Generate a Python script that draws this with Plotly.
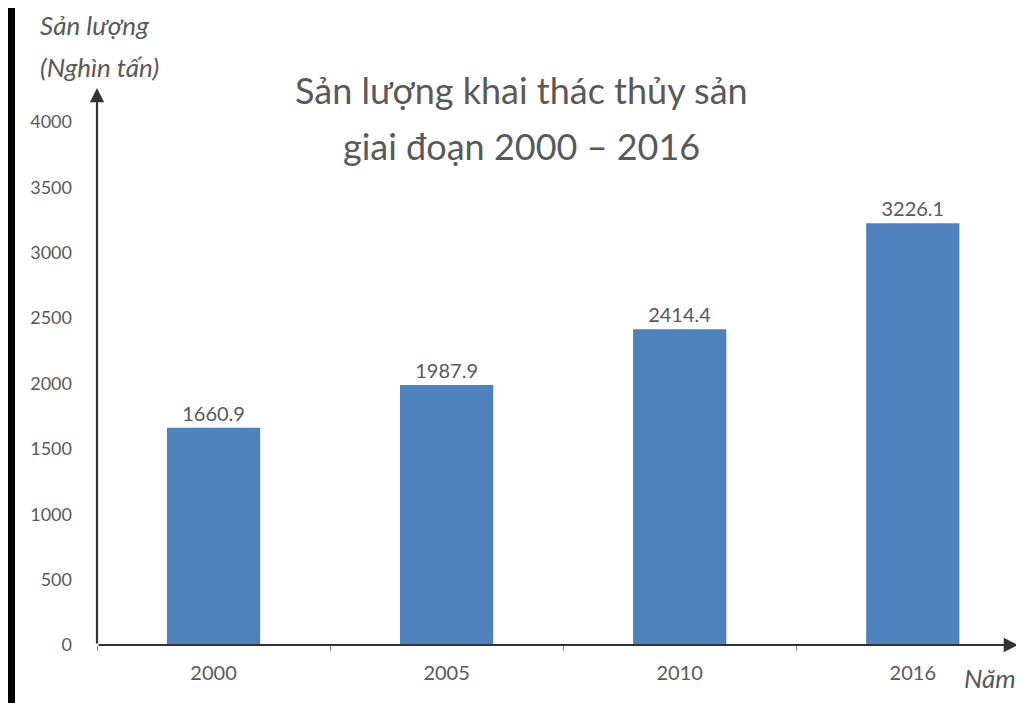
import plotly.graph_objects as go

years = ["2000", "2005", "2010", "2016"]
values = [1660.9, 1987.9, 2414.4, 3226.1]
value_labels = ["1660.9", "1987.9", "2414.4", "3226.1"]
y_ticks = [0, 500, 1000, 1500, 2000, 2500, 3000, 3500, 4000]

OFF = 8  # page body margin
L, T = 97 - OFF, 88 - OFF
pw, ph = 923, 557
R, B = 4, 58
W, H = L + pw + R, T + ph + B

gray = "#595959"
font = "Lato"

def px(xp):  # page x -> paper fraction
    return (xp - OFF - L) / pw

def py(yp):  # page y -> paper fraction
    return 1 - (yp - OFF - T) / ph

fig = go.Figure()
fig.add_trace(go.Bar(
    x=years, y=values, width=0.4,
    marker=dict(color="#4F81BD", line=dict(width=0)),
    text=value_labels, textposition="outside",
    textfont=dict(family=font, size=20, color=gray),
    cliponaxis=False,
))

fig.update_layout(
    width=W, height=H,
    margin=dict(l=L, r=R, t=T, b=B),
    paper_bgcolor="white", plot_bgcolor="white",
    showlegend=False,
    bargap=0.6,
    xaxis=dict(
        type="category", range=[-0.5, 3.46],
        showline=False, showgrid=False, zeroline=False,
        ticks="outside", tickson="boundaries", ticklen=5, tickcolor="#888",
        ticklabelstandoff=14,
        tickfont=dict(family=font, size=20, color=gray),
    ),
    yaxis=dict(
        range=[0, 4260], tickvals=y_ticks,
        showline=False, showgrid=False, zeroline=False,
        ticks="", ticklabelstandoff=24,
        tickfont=dict(family=font, size=18, color=gray),
    ),
)

# Axis arrows
fig.add_annotation(xref="paper", yref="paper", x=0, y=1.0, ax=0, ay=ph,
                   axref="pixel", ayref="pixel", showarrow=True,
                   arrowhead=2, arrowsize=1.3, arrowwidth=2.2, arrowcolor="#333", text="")
fig.add_annotation(xref="paper", yref="paper", x=px(1018), y=0, ax=-(1018 - 97), ay=0,
                   axref="pixel", ayref="pixel", showarrow=True,
                   arrowhead=2, arrowsize=1.3, arrowwidth=2.2, arrowcolor="#333", text="")

# Black strip on the left edge
fig.add_shape(type="rect", xref="paper", yref="paper",
              x0=px(OFF), x1=px(15), y0=py(H + OFF), y1=py(OFF),
              fillcolor="black", line=dict(width=0), layer="above")

# Title
fig.add_annotation(xref="paper", yref="paper", x=px(521), y=py(90),
                   text="Sản lượng khai thác thủy sản", showarrow=False,
                   font=dict(family=font, size=36, color=gray), yanchor="middle")
fig.add_annotation(xref="paper", yref="paper", x=px(521), y=py(146),
                   text="giai đoạn 2000 – 2016", showarrow=False,
                   font=dict(family=font, size=36, color=gray), yanchor="middle")

# Axis titles
fig.add_annotation(xref="paper", yref="paper", x=px(38), y=py(25),
                   text="<i>Sản lượng</i>", showarrow=False, xanchor="left", yanchor="middle",
                   font=dict(family=font, size=26, color=gray))
fig.add_annotation(xref="paper", yref="paper", x=px(38), y=py(67),
                   text="<i>(Nghìn tấn)</i>", showarrow=False, xanchor="left", yanchor="middle",
                   font=dict(family=font, size=26, color=gray))
fig.add_annotation(xref="paper", yref="paper", x=px(962), y=py(678),
                   text="<i>Năm</i>", showarrow=False, xanchor="left", yanchor="middle",
                   font=dict(family=font, size=26, color=gray))

fig.write_html("out.html")
